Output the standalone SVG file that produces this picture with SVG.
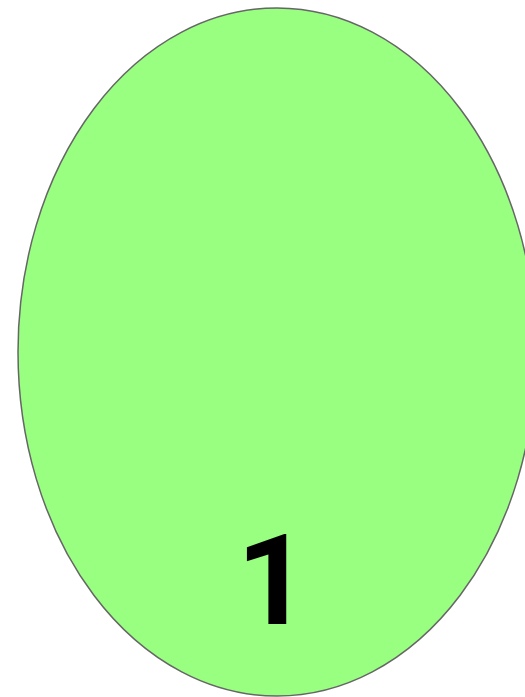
<svg xmlns="http://www.w3.org/2000/svg" width="525" height="697" viewBox="0 0 525 697">
<style>
.node{fill:#99ff80;stroke:#666666;stroke-width:1.5}
.lbl{font-family:Roboto,"Liberation Sans",Arial,sans-serif;font-weight:bold;font-size:127px;fill:#000000}
</style>
<rect width="525" height="697" fill="#ffffff"/>
<g id="node1">
<ellipse class="node" cx="277" cy="352" rx="259" ry="344"/>
<text class="lbl" x="273" y="624" text-anchor="middle">1</text>
</g>
<g id="connectors"/>
</svg>
